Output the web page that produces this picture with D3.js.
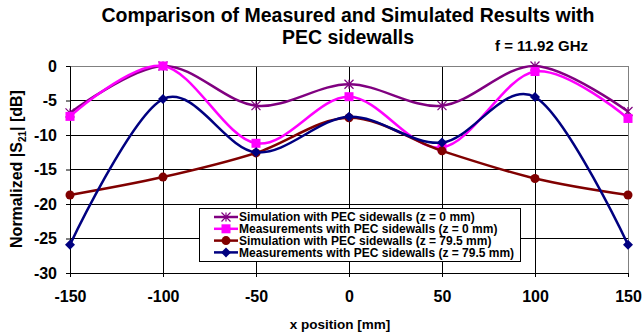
<!DOCTYPE html>
<html>
<head>
<meta charset="utf-8">
<script src="https://cdn.jsdelivr.net/npm/d3@7"></script>
<style>
  body { margin: 0; background: #fff; }
  text { font-family: "Liberation Sans", Arial, sans-serif; font-weight: bold; }
</style>
</head>
<body>
<svg id="chart" width="642" height="335"></svg>
<script>
// x positions (mm) and normalized |S21| (dB)
var xPos = [-150, -100, -50, 0, 50, 100, 150];
var simZ0 = [-6.8, 0, -5.75, -2.65, -5.75, 0, -6.6];
var measZ0 = [-7.3, 0, -11.2, -4.45, -11.8, -0.8, -7.6];
var simZ795 = [-18.7, -16.1, -12.6, -7.5, -12.3, -16.3, -18.7];
var measZ795 = [-25.9, -4.8, -12.5, -7.35, -11.1, -4.5, -25.9];

var xTicks = [-150, -100, -50, 0, 50, 100, 150];
var yTicks = [0, -5, -10, -15, -20, -25, -30];

var seriesNames = [
  'Simulation with PEC sidewalls (z = 0 mm)',
  'Measurements with PEC sidewalls (z = 0 mm)',
  'Simulation with PEC sidewalls (z = 79.5 mm)',
  'Measurements with PEC sidewalls (z = 79.5 mm)'
];
var seriesColors = ['#800080', '#ff00ff', '#800000', '#000080'];
var seriesMarkers = ['star', 'square', 'circle', 'diamond'];
var seriesValues = [simZ0, measZ0, simZ795, measZ795];

var svg = d3.select('#chart');
// plot area edges (don't use "top", it clashes with window.top)
var pLeft = 70, pRight = 628, pTop = 66, pBottom = 273;

var x = d3.scaleLinear().domain([-150, 150]).range([pLeft, pRight]);
var y = d3.scaleLinear().domain([-30, 0]).range([pBottom, pTop]);

// title
svg.append('text')
  .attr('x', 348).attr('y', 22)
  .attr('text-anchor', 'middle')
  .style('font-size', '19.5px')
  .text('Comparison of Measured and Simulated Results with');
svg.append('text')
  .attr('x', 348).attr('y', 44)
  .attr('text-anchor', 'middle')
  .style('font-size', '19.5px')
  .text('PEC sidewalls');
svg.append('text')
  .attr('x', 495).attr('y', 51)
  .style('font-size', '15px')
  .text('f = 11.92 GHz');

// gridlines
svg.append('g')
  .selectAll('line')
  .data(yTicks)
  .enter()
  .append('line')
  .attr('x1', pLeft).attr('x2', pRight)
  .attr('y1', function (d) { return y(d); })
  .attr('y2', function (d) { return y(d); })
  .attr('stroke', '#000')
  .attr('stroke-width', 1)
  .attr('shape-rendering', 'crispEdges');

svg.append('g')
  .selectAll('line')
  .data(xTicks)
  .enter()
  .append('line')
  .attr('y1', pTop).attr('y2', pBottom)
  .attr('x1', function (d) { return x(d); })
  .attr('x2', function (d) { return x(d); })
  .attr('stroke', '#000')
  .attr('stroke-width', 1)
  .attr('shape-rendering', 'crispEdges');

svg.append('rect')
  .attr('x', pLeft).attr('y', pTop)
  .attr('width', pRight - pLeft).attr('height', pBottom - pTop)
  .attr('fill', 'none')
  .attr('stroke', '#808080')
  .attr('shape-rendering', 'crispEdges');

// axes (plain hyphen for negatives, like the original)
var fmt = function (d) { return String(d); };
var xAxis = svg.append('g')
  .attr('transform', 'translate(0,' + pBottom + ')')
  .call(d3.axisBottom(x).tickValues(xTicks).tickFormat(fmt).tickSize(4).tickPadding(14));
var yAxis = svg.append('g')
  .attr('transform', 'translate(' + pLeft + ',0)')
  .call(d3.axisLeft(y).tickValues(yTicks).tickFormat(fmt).tickSize(4).tickPadding(9));

[xAxis, yAxis].forEach(function (g) {
  g.selectAll('path').attr('stroke', '#000');
  g.selectAll('line').attr('stroke', '#000');
  g.selectAll('text')
    .style('font-size', '16px')
    .style('font-family', '"Liberation Sans", Arial, sans-serif')
    .style('font-weight', 'bold')
    .attr('fill', '#000');
});

svg.append('text')
  .attr('x', 340).attr('y', 329)
  .attr('text-anchor', 'middle')
  .style('font-size', '13.5px')
  .text('x position [mm]');

var yTitle = svg.append('text')
  .attr('transform', 'translate(22,169) rotate(-90)')
  .attr('text-anchor', 'middle')
  .style('font-size', '16px');
yTitle.append('tspan').text('Normalized |S');
yTitle.append('tspan').attr('dy', 4).style('font-size', '10px').text('21');
yTitle.append('tspan').attr('dy', -4).text('| [dB]');

// lines
var line = d3.line()
  .x(function (d, i) { return x(xPos[i]); })
  .y(function (d) { return y(d); })
  .curve(d3.curveCardinal.tension(0));

function drawMarker(g, type, color, cx, cy) {
  if (type === 'star') {
    var r = 4.5;
    g.append('path')
      .attr('d', 'M' + (cx - r) + ',' + (cy - r) + 'L' + (cx + r) + ',' + (cy + r) +
        'M' + (cx - r) + ',' + (cy + r) + 'L' + (cx + r) + ',' + (cy - r) +
        'M' + cx + ',' + (cy - r) + 'L' + cx + ',' + (cy + r))
      .attr('stroke', color).attr('stroke-width', 1.2).attr('fill', 'none');
  } else if (type === 'square') {
    g.append('rect')
      .attr('x', cx - 4.5).attr('y', cy - 4.5)
      .attr('width', 9).attr('height', 9)
      .attr('fill', color);
  } else if (type === 'circle') {
    g.append('circle')
      .attr('cx', cx).attr('cy', cy).attr('r', 4.5)
      .attr('fill', color);
  } else {
    var s = 5;
    g.append('path')
      .attr('d', 'M' + cx + ',' + (cy - s) + 'L' + (cx + s) + ',' + cy +
        'L' + cx + ',' + (cy + s) + 'L' + (cx - s) + ',' + cy + 'Z')
      .attr('fill', color);
  }
}

seriesValues.forEach(function (vals, k) {
  var g = svg.append('g');
  g.append('path')
    .datum(vals)
    .attr('d', line)
    .attr('fill', 'none')
    .attr('stroke', seriesColors[k])
    .attr('stroke-width', 2.5);
  vals.forEach(function (v, i) {
    drawMarker(g, seriesMarkers[k], seriesColors[k], x(xPos[i]), y(v));
  });
});

// legend
var lg = svg.append('g').attr('transform', 'translate(199,208)');
lg.append('rect')
  .attr('width', 321).attr('height', 53)
  .attr('fill', '#fff')
  .attr('stroke', '#000')
  .attr('shape-rendering', 'crispEdges');
seriesNames.forEach(function (name, k) {
  var ly = 9 + k * 11.8;
  lg.append('line')
    .attr('x1', 15).attr('x2', 39)
    .attr('y1', ly).attr('y2', ly)
    .attr('stroke', seriesColors[k]).attr('stroke-width', 2.5);
  drawMarker(lg, seriesMarkers[k], seriesColors[k], 27, ly);
  lg.append('text')
    .attr('x', 40).attr('y', ly + 4.3)
    .style('font-size', '12px')
    .text(name);
});
</script>
</body>
</html>
